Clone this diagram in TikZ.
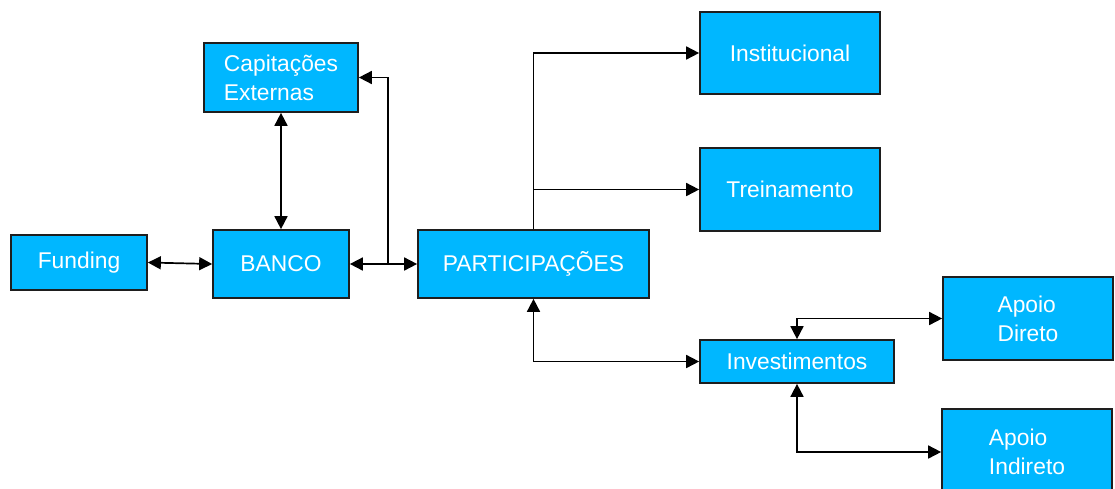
\documentclass[tikz,border=0pt]{standalone}
\usepackage{fontspec}
\setmainfont{Liberation Sans}
\usetikzlibrary{arrows.meta}
\definecolor{boxblue}{RGB}{0,183,255}
\definecolor{edge}{RGB}{30,30,30}
\tikzset{
  box/.style={draw=edge, line width=1.7pt, fill=boxblue, text=white, inner sep=0pt,
    font=\fontsize{22.8}{29}\selectfont, align=center},
  link/.style={draw=black, line width=1.7pt},
  tip/.tip={Triangle[length=13pt,width=13pt]},
}
\begin{document}
\begin{tikzpicture}[x=1pt,y=-1pt]
\useasboundingbox (0,0) rectangle (1115,488);
\node[box, minimum width=136pt, minimum height=55pt] (fund) at (79,262.5) {Funding};
\node[box, minimum width=136pt, minimum height=68pt] (banco) at (281,264) {BANCO};
\node[box, minimum width=154pt, minimum height=69pt, align=left] (capt) at (281,77.5) {Capitações\\Externas};
\node[box, minimum width=231pt, minimum height=68pt] (part) at (533.5,264) {PARTICIPAÇÕES};
\node[box, minimum width=180pt, minimum height=82pt] (inst) at (790,53) {Institucional};
\node[box, minimum width=180pt, minimum height=83pt] (trei) at (790,189.5) {Treinamento};
\node[box, minimum width=194pt, minimum height=43pt] (inv) at (797,361.5) {Investimentos};
\node[box, minimum width=170pt, minimum height=83pt, align=left] (ad) at (1028,318.5) {Apoio\\Direto};
\node[box, minimum width=170pt, minimum height=86pt, align=left] (ai) at (1027,452) {Apoio\\Indireto};

\coordinate (j1) at (388,264);
\draw[link, {tip}-{tip}] (fund.east) -- (banco.west);
\draw[link, {tip}-{tip}] (capt.south) -- (banco.north);
\draw[link, {tip}-{tip}] (banco.east) -- (part.west);
\draw[link, -{tip}] (j1) |- (capt.east);
\draw[link, -{tip}] (part.north) |- (inst.west);
\draw[link, -{tip}] (part.north) |- (trei.west);
\draw[link, {tip}-{tip}] (part.south) |- (inv.west);
\draw[link, {tip}-{tip}] (inv.north) |- (ad.west);
\draw[link, {tip}-{tip}] (inv.south) |- (ai.west);
\end{tikzpicture}
\end{document}
